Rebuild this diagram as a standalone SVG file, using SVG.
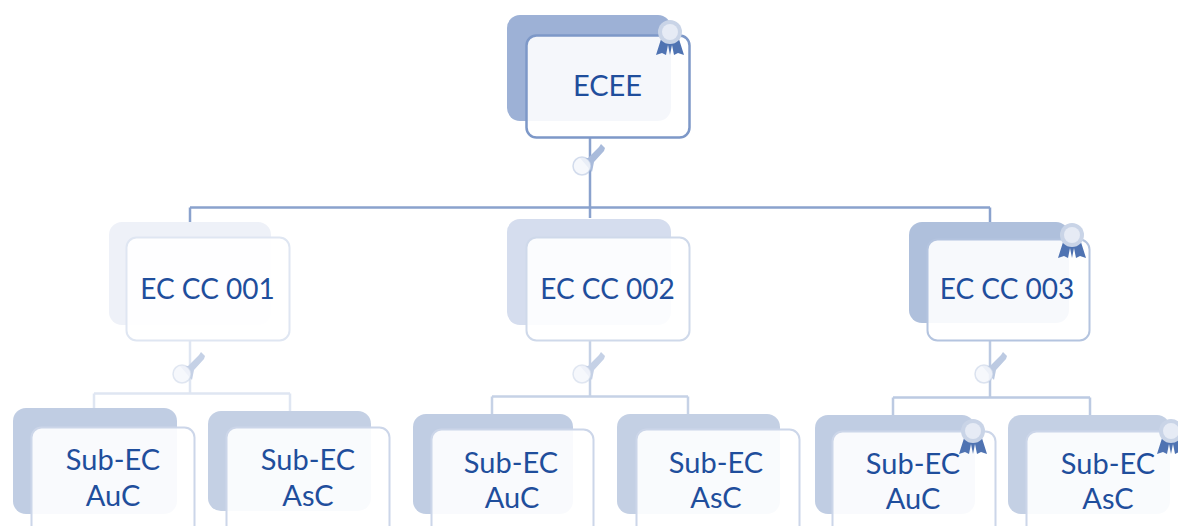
<svg xmlns="http://www.w3.org/2000/svg" width="1178" height="526" viewBox="0 0 1178 526">
<style>
.b{stroke:none}
.f{fill:#fff;fill-opacity:.9;stroke-width:2}
.t{font-family:Lato,"Open Sans",sans-serif;fill:#1f4e9c;text-anchor:middle;font-size:29px}
.h{font-size:28px}
.c{fill:none;stroke-width:2.5}
.top{stroke-width:2.5}
</style>
<defs>
<g id="ribbon">
<path d="M-8 4L-14 23L-8 21L-4 23L-2 13L0 23L2 13L4 23L8 21L14 23L8 4Z" fill="#4f73b2"/>
<circle r="12" fill="#c9d4e7"/><circle r="8" fill="#e6ebf5"/>
</g>
<g id="key">
<path d="M-6 -5L2 -5L13 -16L15 -19L19 -15L18 -12L8 -1L6 9Z" fill="currentColor"/>
<circle cx="-4" cy="3" r="9" fill="#f5f7fb" fill-opacity=".85" stroke="currentColor" stroke-width="1.500" stroke-opacity=".5"/>
</g>
</defs>
<g id="connectors">
<path class="c" stroke="#8aa2cd" d="M590 138V218M190 207.500H990M190 207.500V222M990 207.500V222"/>
<path class="c" stroke="#dfe6f2" d="M190 341V393.500M94 393.500H290M94 393.500V408M290 393.500V411"/>
<path class="c" stroke="#c6d2e6" d="M590 341V396.500M492 396.500H688M492 396.500V414M688 396.500V414"/>
<path class="c" stroke="#bccae2" d="M990 340V397.500M893 397.500H1090M893 397.500V415M1090 397.500V415"/>
<use href="#key" x="586" y="163" color="#a9bbdb"/>
<use href="#key" x="186" y="371" color="#c5d1e6"/>
<use href="#key" x="586" y="371" color="#c5d1e6"/>
<use href="#key" x="988" y="371" color="#bccae2"/>
</g>
<g id="node-ecee">
<rect class="b" x="507" y="15" width="164" height="106" rx="13" fill="#9db1d6"/>
<rect class="f top" x="526.500" y="35.500" width="163" height="102" rx="10" stroke="#7d98c8"/>
<use href="#ribbon" x="670" y="32"/>
<text class="t" x="607.500" y="96">ECEE</text>
</g>
<g id="node-cc001">
<rect class="b" x="109" y="222" width="162" height="103" rx="13" fill="#eef1f8"/>
<rect class="f" x="126.500" y="237.500" width="163" height="103" rx="10" stroke="#dfe6f2"/>
<text class="t h" x="207.500" y="299">EC CC 001</text>
</g>
<g id="node-cc002">
<rect class="b" x="507" y="219" width="164" height="106" rx="13" fill="#d5ddee"/>
<rect class="f" x="526.500" y="237.500" width="163" height="103" rx="10" stroke="#cfd9ea"/>
<text class="t h" x="607.500" y="299">EC CC 002</text>
</g>
<g id="node-cc003">
<rect class="b" x="909" y="222" width="160" height="101" rx="13" fill="#afc0dc"/>
<rect class="f" x="927.500" y="239.500" width="162" height="101" rx="10" stroke="#b4c4df"/>
<use href="#ribbon" x="1072" y="235"/>
<text class="t h" x="1007" y="299">EC CC 003</text>
</g>
<g id="node-sub1">
<rect class="b" x="13" y="408" width="164" height="106" rx="13" fill="#c0cde3"/>
<rect class="f" x="31.500" y="427.500" width="163" height="110" rx="10" stroke="#ccd6e9"/>
<text class="t" x="113" y="470">Sub-EC<tspan x="113" y="506">AuC</tspan></text>
</g>
<g id="node-sub2">
<rect class="b" x="208" y="411" width="163" height="100" rx="13" fill="#c4d0e4"/>
<rect class="f" x="226.500" y="427.500" width="163" height="110" rx="10" stroke="#ccd6e9"/>
<text class="t" x="308" y="470">Sub-EC<tspan x="308" y="506">AsC</tspan></text>
</g>
<g id="node-sub3">
<rect class="b" x="413" y="414" width="160" height="100" rx="13" fill="#c0cde3"/>
<rect class="f" x="431.500" y="429.500" width="162" height="110" rx="10" stroke="#ccd6e9"/>
<text class="t" x="511" y="473">Sub-EC<tspan x="512" y="508">AuC</tspan></text>
</g>
<g id="node-sub4">
<rect class="b" x="617" y="414" width="163" height="100" rx="13" fill="#c4d0e4"/>
<rect class="f" x="636.500" y="429.500" width="163" height="110" rx="10" stroke="#ccd6e9"/>
<text class="t" x="716" y="473">Sub-EC<tspan x="716" y="508">AsC</tspan></text>
</g>
<g id="node-sub5">
<rect class="b" x="815" y="415" width="160" height="99" rx="13" fill="#c0cde3"/>
<rect class="f" x="832.500" y="431.500" width="163" height="110" rx="10" stroke="#ccd6e9"/>
<use href="#ribbon" x="973" y="431"/>
<text class="t" x="913" y="474">Sub-EC<tspan x="913" y="509">AuC</tspan></text>
</g>
<g id="node-sub6">
<rect class="b" x="1008" y="415" width="162" height="99" rx="13" fill="#c4d0e4"/>
<rect class="f" x="1026.500" y="431.500" width="163" height="110" rx="10" stroke="#ccd6e9"/>
<use href="#ribbon" x="1171" y="431"/>
<text class="t" x="1108" y="474">Sub-EC<tspan x="1108" y="509">AsC</tspan></text>
</g>
</svg>
